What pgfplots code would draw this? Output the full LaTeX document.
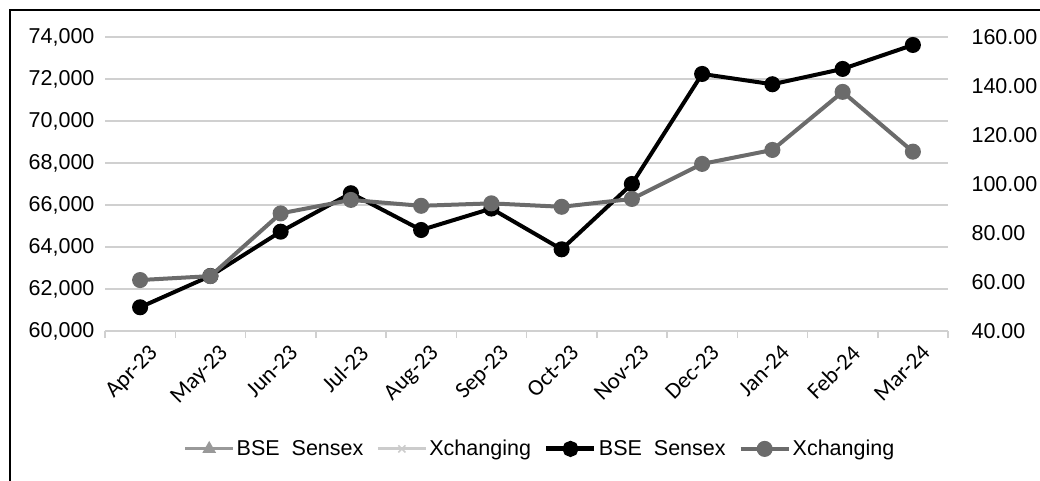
\documentclass[border=0pt]{standalone}
\usepackage{pgfplots}
\pgfplotsset{compat=1.18}
\usepackage{fontspec}
\setmainfont{Liberation Sans}
\newfontfamily\calib{Carlito}
\definecolor{gridc}{HTML}{D0D0D0}
\definecolor{xchg}{HTML}{6B6B6B}
\definecolor{legA}{HTML}{999999}
\definecolor{legB}{HTML}{CCCCCC}
\begin{document}
\begin{tikzpicture}[x=1pt,y=1pt]
\useasboundingbox (0,0) rectangle (1040,480);
\draw[line width=1.5pt] (10,-5) -- (10,470) -- (1045,470);
\begin{axis}[
  at={(105pt,149pt)}, anchor=south west,
  scale only axis, width=843pt, height=294pt,
  xmin=-0.5, xmax=11.5,
  ymin=60000, ymax=74000,
  xtick={0,...,11},
  xticklabels={Apr-23,May-23,Jun-23,Jul-23,Aug-23,Sep-23,Oct-23,Nov-23,Dec-23,Jan-24,Feb-24,Mar-24},
  minor xtick={-0.5,0.5,...,11.5},
  ytick={60000,62000,...,74000},
  scaled y ticks=false,
  axis x line*=bottom, axis y line*=left,
  x axis line style={draw=gridc, line width=1.5pt, -},
  y axis line style={draw=none},
  ytick style={draw=none},
  major tick length=0pt, minor tick length=7pt,
  minor tick style={draw=gridc, line width=1.5pt},
  tick align=outside,
  ymajorgrids, grid style={draw=gridc, line width=1.3pt},
  /pgf/number format/assume math mode=true,
  yticklabel style={font=\fontsize{21.5}{25}\selectfont, /pgf/number format/1000 sep={,}, xshift=-7pt},
  xticklabel style={font=\calib\fontsize{23}{26}\selectfont, rotate=45, anchor=north east, yshift=-11pt, xshift=0pt},
  clip=false,
]
\addplot[black, line width=4pt, mark=*, mark size=6pt, mark options={solid}] coordinates {
(0,61130) (1,62620) (2,64730) (3,66560) (4,64810) (5,65830) (6,63890) (7,67000) (8,72240) (9,71750) (10,72480) (11,73620)};
\end{axis}
\begin{axis}[
  at={(105pt,149pt)}, anchor=south west,
  scale only axis, width=843pt, height=294pt,
  xmin=-0.5, xmax=11.5,
  ymin=40, ymax=160,
  ytick={40,60,...,160},
  axis x line=none, axis y line*=right,
  y axis line style={draw=none},
  ytick style={draw=none},
  major tick length=0pt,
  /pgf/number format/assume math mode=true,
  yticklabel style={font=\fontsize{21.5}{25}\selectfont, /pgf/number format/.cd, fixed, fixed zerofill, precision=2, /tikz/.cd, anchor=west, xshift=20pt},
  clip=false,
  legend columns=4,
  legend style={at={(0.516,-0.401)}, anchor=center, draw=none, fill=none,
    font=\fontsize{21.5}{25}\selectfont, column sep=0pt,
    /tikz/every even column/.append style={column sep=11pt},
    nodes={inner xsep=2pt}},
  legend image code/.code={\draw[mark repeat=2,mark phase=2] plot coordinates {(0pt,0pt) (24pt,0pt) (48pt,0pt)};},
]
\addlegendimage{legA, line width=3pt, mark=triangle*, mark size=5pt, mark options={solid}}
\addlegendentry{BSE~~Sensex}
\addlegendimage{legB, line width=3pt, mark=x, mark size=5pt, mark options={solid, line width=1.5pt}}
\addlegendentry{Xchanging}
\addlegendimage{black, line width=5pt, mark=*, mark size=5.5pt, mark options={solid}}
\addlegendentry{BSE~~Sensex}
\addplot[xchg, line width=4pt, mark=*, mark size=6pt, mark options={solid}] coordinates {
(0,60.8) (1,62.4) (2,88.0) (3,93.5) (4,91.1) (5,92.1) (6,90.7) (7,93.9) (8,108.2) (9,113.9) (10,137.6) (11,113.2)};
\addlegendentry{Xchanging}
\end{axis}
\end{tikzpicture}
\end{document}
